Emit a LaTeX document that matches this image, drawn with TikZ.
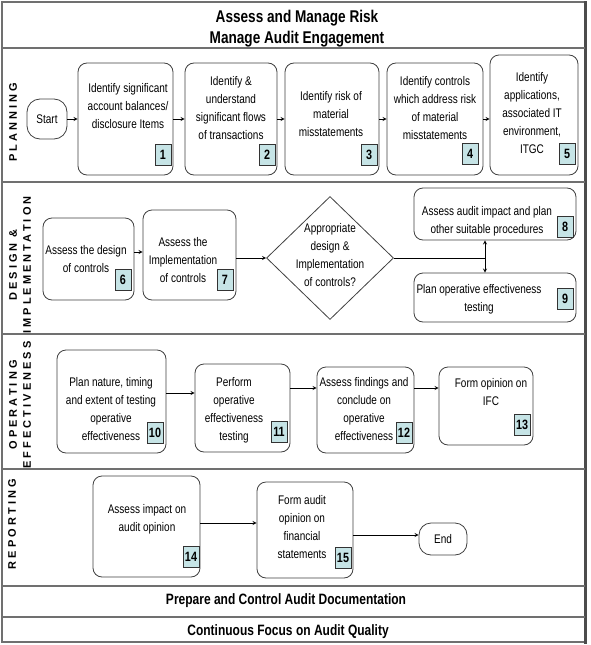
\documentclass[tikz,border=0pt]{standalone}
\usepackage{fontspec}
\setmainfont{Liberation Sans}[FakeStretch=0.8]
\newfontfamily\lanefont{Liberation Sans}[LetterSpace=28]
\usetikzlibrary{shapes.geometric, arrows}
\definecolor{numfill}{RGB}{198,228,230}
\definecolor{framegray}{RGB}{112,112,112}
\tikzstyle{stepbox} = [rectangle, rounded corners=9pt, draw=black!75, line width=0.8pt, fill=white]
\tikzstyle{termbox} = [rectangle, rounded corners=12pt, draw=black!75, line width=0.8pt, fill=white, inner sep=0pt, font=\fontsize{12.5}{14}\selectfont]
\tikzstyle{steptext} = [align=center, inner sep=0pt, font=\fontsize{12.5}{18}\selectfont]
\tikzstyle{numbox} = [rectangle, draw=black!80, line width=0.8pt, fill=numfill, anchor=south east, minimum width=16pt, minimum height=21pt, inner sep=1.5pt, font=\bfseries\fontsize{13.5}{13.5}\selectfont]
\tikzstyle{lane} = [rotate=90, align=center, inner sep=0pt, font=\lanefont\bfseries\fontsize{11}{14}\selectfont]
\tikzstyle{banner} = [align=center, inner sep=0pt]
\tikzstyle{divider} = [draw=framegray, line width=1.5pt]
\tikzstyle{arrow} = [line width=0.8pt,->,>=stealth]

\begin{document}
\begin{tikzpicture}[x=1pt, y=-1pt]
    \useasboundingbox (0,0) rectangle (590,645);
    \draw [framegray, line width=1.5pt] (2,2) rectangle (585,642);
    \draw [black!70, line width=3pt] (585.5,1) -- (585.5,644);
    \foreach \y in {48,182,334,469,586,617}
        \draw [divider] (2,\y) -- (585,\y);

    \node (title) [banner, font=\bfseries\fontsize{17}{21}\selectfont] at (297,29) {Assess and Manage Risk\\Manage Audit Engagement};
    \node (docs) [banner, font=\bfseries\fontsize{15}{16}\selectfont] at (286,601) {Prepare and Control Audit Documentation};
    \node (quality) [banner, font=\bfseries\fontsize{15}{16}\selectfont] at (288,632) {Continuous Focus on Audit Quality};

    \node (planning) [lane] at (13,122) {PLANNING};
    \node (design) [lane] at (20,265) {DESIGN \&\\IMPLEMENTATION};
    \node (operating) [lane] at (20,405) {OPERATING\\EFFECTIVENESS};
    \node (reporting) [lane] at (12,524) {REPORTING};

    % planning
    \node (start) [termbox, minimum width=40pt, minimum height=40pt, rounded corners=13pt] at (47,119) {Start};
    \node (b1) [stepbox, minimum width=95pt, minimum height=112pt] at (125.5,119) {};
    \node (b2) [stepbox, minimum width=92pt, minimum height=112pt] at (231,119) {};
    \node (b3) [stepbox, minimum width=94pt, minimum height=112pt] at (332,119) {};
    \node (b4) [stepbox, minimum width=96pt, minimum height=112pt] at (435,119) {};
    \node (b5) [stepbox, minimum width=88pt, minimum height=120pt] at (534,115) {};
    \node (t1) [steptext] at (128,106) {Identify significant\\account balances/\\disclosure Items};
    \node (t2) [steptext] at (231,108) {Identify \&\\understand\\significant flows\\of transactions};
    \node (t3) [steptext] at (331,114) {Identify risk of\\material\\misstatements};
    \node (t4) [steptext] at (435,108) {Identify controls\\which address risk\\of material\\misstatements};
    \node (t5) [steptext] at (532,113) {Identify\\applications,\\associated IT\\environment,\\ITGC};
    \node (n1) [numbox] at ([xshift=-2pt,yshift=10pt]b1.south east) {1};
    \node (n2) [numbox] at ([xshift=-2pt,yshift=10pt]b2.south east) {2};
    \node (n3) [numbox] at ([xshift=-2pt,yshift=10pt]b3.south east) {3};
    \node (n4) [numbox] at ([xshift=-5pt,yshift=11pt]b4.south east) {4};
    \node (n5) [numbox] at ([xshift=-3pt,yshift=11pt]b5.south east) {5};
    \draw [arrow] (start.east) -- (b1.west);
    \draw [arrow] (b1.east) -- (b2.west);
    \draw [arrow] (b2.east) -- (b3.west);
    \draw [arrow] (b3.east) -- (b4.west);
    \draw [arrow] (b4.east) -- (b4.east -| b5.west);

    % design and implementation
    \node (b6) [stepbox, minimum width=91pt, minimum height=82pt] at (88.5,259) {};
    \node (b7) [stepbox, minimum width=93pt, minimum height=90pt] at (189.5,255) {};
    \node (dec) [diamond, draw=black!75, line width=0.8pt, inner sep=0pt, minimum width=127pt, minimum height=123pt] at (330,258) {};
    \node (b8) [stepbox, minimum width=162pt, minimum height=52pt] at (495,214) {};
    \node (b9) [stepbox, minimum width=162pt, minimum height=49pt] at (495,297.5) {};
    \node (t6) [steptext] at (86,259) {Assess the design\\of controls};
    \node (t7) [steptext] at (183,260) {Assess the\\Implementation\\of controls};
    \node (tdec) [steptext] at (330,255) {Appropriate\\design \&\\Implementation\\of controls?};
    \node (t8) [steptext] at (487,221) {Assess audit impact and plan\\other suitable procedures};
    \node (t9) [steptext] at (479,299) {Plan operative effectiveness\\testing};
    \node (n6) [numbox] at ([xshift=-3pt,yshift=10pt]b6.south east) {6};
    \node (n7) [numbox] at ([xshift=-3pt,yshift=10pt]b7.south east) {7};
    \node (n8) [numbox] at ([xshift=-3pt,yshift=3pt]b8.south east) {8};
    \node (n9) [numbox] at ([xshift=-3pt,yshift=13pt]b9.south east) {9};
    \coordinate (j) at (485,258);
    \draw [arrow] (b6.east |- 0,252) -- (b7.west |- 0,252);
    \draw [arrow] (b7.east |- dec.west) -- (dec.west);
    \draw [line width=0.8pt] (dec.east) -- (j);
    \draw [arrow] (j) -- (j |- b8.south);
    \draw [arrow] (j) -- (j |- b9.north);

    % operating effectiveness
    \node (b10) [stepbox, minimum width=109pt, minimum height=103pt] at (111.5,401.5) {};
    \node (b11) [stepbox, minimum width=95pt, minimum height=88pt] at (242.5,408) {};
    \node (b12) [stepbox, minimum width=97pt, minimum height=86pt] at (365.5,410) {};
    \node (b13) [stepbox, minimum width=94pt, minimum height=78pt] at (486,406) {};
    \node (t10) [steptext] at (111,409) {Plan nature, timing\\and extent of testing\\operative\\effectiveness};
    \node (t11) [steptext] at (234,410) {Perform\\operative\\effectiveness\\testing};
    \node (t12) [steptext] at (364,409) {Assess findings and\\conclude on\\operative\\effectiveness};
    \node (t13) [steptext] at (491,392) {Form opinion on\\IFC};
    \node (n10) [numbox] at ([xshift=-3pt,yshift=10pt]b10.south east) {10};
    \node (n11) [numbox] at ([xshift=-3pt,yshift=10pt]b11.south east) {11};
    \node (n12) [numbox] at ([xshift=-2pt,yshift=10pt]b12.south east) {12};
    \node (n13) [numbox] at ([xshift=-3pt,yshift=10pt]b13.south east) {13};
    \draw [arrow] (b10.east |- 0,393) -- (b11.west |- 0,393);
    \draw [arrow] (b11.east |- 0,388) -- (b12.west |- 0,388);
    \draw [arrow] (b12.east |- 0,388) -- (b13.west |- 0,388);

    % reporting
    \node (b14) [stepbox, minimum width=107pt, minimum height=101pt] at (146.5,526.5) {};
    \node (b15) [stepbox, minimum width=96pt, minimum height=96pt] at (305,530) {};
    \node (end) [termbox, minimum width=48pt, minimum height=32pt] at (443,539) {End};
    \node (t14) [steptext] at (147,519) {Assess impact on\\audit opinion};
    \node (t15) [steptext] at (302,527) {Form audit\\opinion on\\financial\\statements};
    \node (n14) [numbox] at ([xshift=-1pt,yshift=10pt]b14.south east) {14};
    \node (n15) [numbox] at ([xshift=-2pt,yshift=10pt]b15.south east) {15};
    \draw [arrow] (b14.east |- 0,523) -- (b15.west |- 0,523);
    \draw [arrow] (b15.east |- 0,535) -- (end.west |- 0,535);
\end{tikzpicture}
\end{document}
